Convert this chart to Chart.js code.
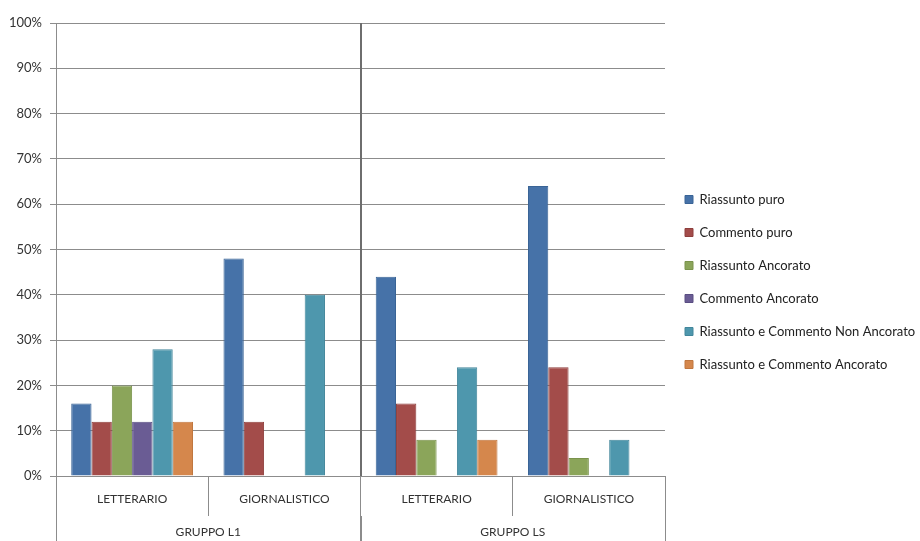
<!DOCTYPE html>
<html>
<head>
<meta charset="utf-8">
<script src="https://cdn.jsdelivr.net/npm/chart.js@4"></script>
<style>
  html, body { margin: 0; padding: 0; background: #fff; }
  #wrap { width: 920px; height: 541px; }
</style>
</head>
<body>
<div id="wrap"><canvas id="myChart" width="920" height="541"></canvas></div>
<script>
const categories = ['LETTERARIO', 'GIORNALISTICO', 'LETTERARIO', 'GIORNALISTICO'];
const groups = ['GRUPPO L1', 'GRUPPO LS'];
const yTicks = [0, 10, 20, 30, 40, 50, 60, 70, 80, 90, 100];

// percentages per category (L1 letterario, L1 giornalistico, LS letterario, LS giornalistico)
const riassuntoPuro = [16, 48, 44, 64];
const commentoPuro = [12, 12, 16, 24];
const riassuntoAncorato = [20, 0, 8, 4];
const commentoAncorato = [12, 0, 0, 0];
const riassCommNonAncorato = [28, 40, 24, 8];
const riassCommAncorato = [12, 0, 8, 0];

const seriesNames = [
  'Riassunto puro',
  'Commento puro',
  'Riassunto Ancorato',
  'Commento Ancorato',
  'Riassunto e Commento Non Ancorato',
  'Riassunto e Commento Ancorato'
];
const seriesData = [riassuntoPuro, commentoPuro, riassuntoAncorato, commentoAncorato, riassCommNonAncorato, riassCommAncorato];
const fills = ['#4672a8', '#a34c4a', '#8ba55a', '#6a5c94', '#4e97ad', '#d5874c'];
const borders = ['#3a6496', '#8e3f3d', '#7a934c', '#5a4e82', '#42869b', '#c0773f'];

Chart.defaults.font.family = "Lato, 'Open Sans', sans-serif";
Chart.defaults.font.size = 13;
Chart.defaults.color = '#333';

const ctx = document.getElementById('myChart').getContext('2d');

new Chart(ctx, {
  type: 'bar',
  data: {
    labels: categories,
    datasets: seriesNames.map((name, i) => ({
      label: name,
      data: seriesData[i],
      backgroundColor: fills[i],
      borderColor: borders[i],
      borderWidth: 1,
      categoryPercentage: 0.8,
      barPercentage: 1
    }))
  },
  options: {
    responsive: false,
    animation: false,
    layout: { padding: { top: 23, right: 4, bottom: 0, left: 0 } },
    plugins: {
      tooltip: { enabled: false },
      legend: {
        position: 'right',
        align: 'center',
        maxWidth: 251,
        labels: {
          boxWidth: 8,
          boxHeight: 8,
          padding: 20,
          color: '#222',
          font: { size: 13 }
        }
      }
    },
    scales: {
      y: {
        min: 0,
        max: 100,
        afterBuildTicks: s => { s.ticks = yTicks.map(v => ({ value: v })); },
        ticks: { callback: v => v + '%', padding: 8, color: '#333' },
        grid: { color: '#8c8c8c', tickLength: 6, lineWidth: 1 },
        border: { color: '#8c8c8c', width: 1 },
        afterFit: s => { s.width = 56; }
      },
      x: {
        grid: { drawOnChartArea: false, color: '#8c8c8c', tickLength: 40, offset: true },
        border: { color: '#8c8c8c' },
        ticks: { padding: -24, color: '#333', font: { size: 12 } },
        afterFit: s => { s.height = 40; }
      },
      x2: {
        type: 'category',
        position: 'bottom',
        labels: groups,
        offset: true,
        grid: {
          offset: true,
          drawOnChartArea: true,
          tickLength: 25,
          color: c => (c.index === 1 ? '#6e6e6e' : (c.index === 0 ? '#8c8c8c' : 'rgba(0,0,0,0)')),
          lineWidth: c => (c.index === 1 ? 2 : 1),
          tickColor: '#8c8c8c'
        },
        border: { display: false },
        ticks: { padding: -16, color: '#333', font: { size: 12 } },
        afterFit: s => { s.height = 25; }
      }
    }
  }
});
</script>
</body>
</html>
